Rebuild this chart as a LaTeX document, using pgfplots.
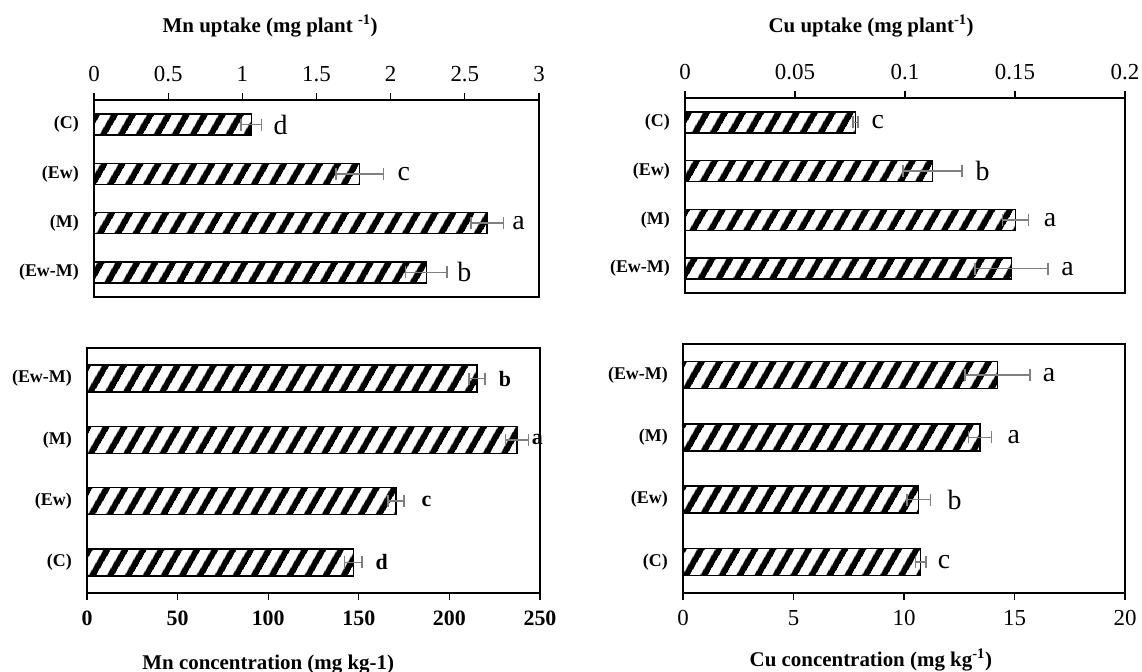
\documentclass[border=0pt]{standalone}
\usepackage{fontspec}
\setmainfont{Liberation Serif}
\usepackage{pgfplots}
\pgfplotsset{compat=1.18}
\usetikzlibrary{patterns.meta}

\pgfplotsset{
  panel/.style={
    scale only axis, clip=false,
    axis line style={line width=1.5bp},
    ymin=-0.5, ymax=3.5, ytick={0,1,2,3},
    ytick style={draw=none},
    tick align=outside, major tick length=7bp,
    xtick style={line width=1.3bp, black},
    scaled x ticks=false,
    yticklabel style={font=\bfseries\fontsize{18}{20}\selectfont, inner sep=0pt, xshift=-8bp},
  },
  hbar/.style={
    xbar, bar width=#1, draw=black, line width=1.3bp,
    pattern={Lines[angle=60,distance=15bp,line width=6.3bp]},
    error bars/.cd, x dir=both, x explicit, error mark=|,
    error bar style={color=gray, line width=1.5bp},
    error mark options={color=gray, mark size=6bp, line width=1.5bp},
  },
}
\tikzset{
  lett/.style={anchor=west, inner sep=0pt, font=\fontsize{28}{30}\selectfont},
  lettb/.style={anchor=west, inner sep=0pt, font=\bfseries\fontsize{22}{24}\selectfont},
  ttl/.style={anchor=base, inner sep=0pt, font=\bfseries\fontsize{21}{24}\selectfont},
}

\begin{document}
\begin{tikzpicture}
\path[use as bounding box] (0,0) rectangle (1142bp,-672bp);

% Top-left: Mn uptake
\begin{axis}[panel, at={(94bp,-297bp)}, anchor=south west,
  width=445bp, height=197bp,
  xmin=0, xmax=3, xtick={0,0.5,1,1.5,2,2.5,3},
  xticklabels={0,0.5,1,1.5,2,2.5,3},
  xtick pos=right, xticklabel pos=right,
  xticklabel style={font=\fontsize{23}{26}\selectfont, yshift=8bp},
  yticklabels={(Ew-M),(M),(Ew),(C)}]
\addplot[hbar=21bp] coordinates {
  (1.06,3) +- (0.07,0)
  (1.79,2) +- (0.16,0)
  (2.65,1) +- (0.11,0)
  (2.24,0) +- (0.14,0)
};
\node[lett] at (axis cs:1.209,3) {d};
\node[lett] at (axis cs:2.045,2) {c};
\node[lett] at (axis cs:2.819,1) {a};
\node[lett] at (axis cs:2.449,0) {b};
\node[ttl, yshift=68bp] at (axis description cs:0.396,1) {Mn uptake (mg plant \textsuperscript{-1})};
\end{axis}

% Top-right: Cu uptake
\begin{axis}[panel, at={(685bp,-293bp)}, anchor=south west,
  width=440bp, height=195bp,
  xmin=0, xmax=0.2, xtick={0,0.05,0.1,0.15,0.2},
  xticklabels={0,0.05,0.1,0.15,0.2},
  xtick pos=right, xticklabel pos=right,
  xticklabel style={font=\fontsize{23}{26}\selectfont, yshift=8bp},
  yticklabels={(Ew-M),(M),(Ew),(C)}]
\addplot[hbar=21bp] coordinates {
  (0.0775,3) +- (0.0012,0)
  (0.1125,2) +- (0.0134,0)
  (0.1502,1) +- (0.006,0)
  (0.1483,0) +- (0.0166,0)
};
\node[lett] at (axis cs:0.0847,3) {c};
\node[lett] at (axis cs:0.132,2) {b};
\node[lett] at (axis cs:0.163,1) {a};
\node[lett] at (axis cs:0.171,0) {a};
\node[ttl, yshift=66bp] at (axis description cs:0.423,1) {Cu uptake (mg plant\textsuperscript{-1})};
\end{axis}

% Bottom-left: Mn concentration
\begin{axis}[panel, at={(87bp,-593bp)}, anchor=south west,
  width=453bp, height=245bp,
  xmin=0, xmax=250, xtick={0,50,100,150,200,250},
  xticklabels={0,50,100,150,200,250},
  xtick pos=left, xticklabel pos=left,
  xticklabel style={font=\bfseries\fontsize{22}{25}\selectfont, yshift=-7bp},
  yticklabels={(C),(Ew),(M),(Ew-M)}]
\addplot[hbar=27bp] coordinates {
  (215.3,3) +- (4.4,0)
  (237.3,2) +- (6.3,0)
  (170.5,1) +- (4.4,0)
  (146.9,0) +- (4.8,0)
};
\node[lettb] at (axis cs:227.2,3) {b};
\node[lettb] at (axis cs:245.4,2) {a};
\node[lettb] at (axis cs:184.6,1) {c};
\node[lettb] at (axis cs:159.2,0) {d};
\node[ttl, yshift=-76bp] at (axis description cs:0.40,0) {Mn concentration (mg kg-1)};
\end{axis}

% Bottom-right: Cu concentration
\begin{axis}[panel, at={(683bp,-593bp)}, anchor=south west,
  width=442bp, height=249bp,
  xmin=0, xmax=20, xtick={0,5,10,15,20},
  xticklabels={0,5,10,15,20},
  xtick pos=left, xticklabel pos=left,
  xticklabel style={font=\fontsize{23}{26}\selectfont, yshift=-7bp},
  yticklabels={(C),(Ew),(M),(Ew-M)}]
\addplot[hbar=27bp] coordinates {
  (14.23,3) +- (1.47,0)
  (13.44,2) +- (0.52,0)
  (10.66,1) +- (0.53,0)
  (10.75,0) +- (0.24,0)
};
\node[lett] at (axis cs:16.27,3) {a};
\node[lett] at (axis cs:14.68,2) {a};
\node[lett] at (axis cs:11.96,1) {b};
\node[lett] at (axis cs:11.52,0) {c};
\node[ttl, yshift=-73bp] at (axis description cs:0.425,0) {Cu concentration (mg kg\textsuperscript{-1})};
\end{axis}
\end{tikzpicture}
\end{document}
